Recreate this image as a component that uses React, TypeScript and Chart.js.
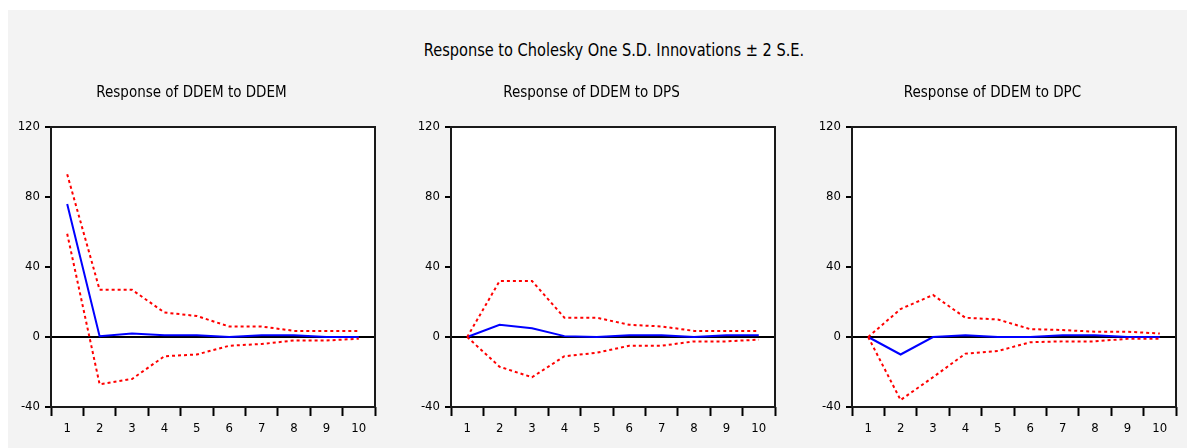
import React, { useEffect, useRef } from "react";
import { Chart, registerables } from "chart.js";

Chart.register(...registerables);

const FONT = '"Liberation Sans Narrow", "DejaVu Sans Condensed", "Arial Narrow", sans-serif';

const mainTitle = "Response to Cholesky One S.D. Innovations ± 2 S.E.";
const periods = ["1", "2", "3", "4", "5", "6", "7", "8", "9", "10"];
const yTicks = [-40, 0, 40, 80, 120];

const titleDDEM = "Response of DDEM to DDEM";
const respDDEM = [76, 0.5, 2, 1, 1, 0, 1, 1, 0, 0];
const upperDDEM = [93, 27, 27, 14, 12, 6, 6, 3.5, 3.5, 3.5];
const lowerDDEM = [59, -27, -24, -11, -10, -5, -4, -2, -2, -1];

const titleDPS = "Response of DDEM to DPS";
const respDPS = [0, 7, 5, 0.5, 0, 1, 1, 0, 1, 1];
const upperDPS = [0, 32, 32, 11, 11, 7, 6, 3.5, 3.5, 3.5];
const lowerDPS = [0, -17, -23, -11, -9, -5, -5, -2.5, -2.5, -1.5];

const titleDPC = "Response of DDEM to DPC";
const respDPC = [0, -10, 0, 1, 0, 0, 1, 1, 0, 0];
const upperDPC = [0, 16, 24, 11, 10, 4.5, 4, 3, 3, 2];
const lowerDPC = [0, -36, -23, -9.5, -8, -3, -2.5, -2.5, -1, -1];

const framePlugin = {
  id: "frame",
  beforeDraw(chart: any) {
    const { ctx, chartArea: a } = chart;
    ctx.save();
    ctx.fillStyle = "#ffffff";
    ctx.fillRect(a.left, a.top, a.right - a.left, a.bottom - a.top);
    ctx.restore();
  },
  afterDraw(chart: any) {
    const { ctx, chartArea: a } = chart;
    ctx.save();
    ctx.strokeStyle = "#1a1a1a";
    ctx.lineWidth = 2;
    ctx.strokeRect(a.left, a.top, a.right - a.left, a.bottom - a.top);
    ctx.restore();
  },
};

function makeConfig(title: string, resp: number[], upper: number[], lower: number[]): any {
  const band = (data: number[]) => ({
    data,
    borderColor: "#ff0000",
    borderDash: [3, 3],
    borderWidth: 2,
    pointRadius: 0,
    fill: false,
    tension: 0,
  });
  return {
    type: "line",
    data: {
      labels: periods,
      datasets: [
        band(upper),
        band(lower),
        { data: resp, borderColor: "#0000ff", borderWidth: 2, pointRadius: 0, fill: false, tension: 0 },
      ],
    },
    options: {
      responsive: false,
      animation: false,
      events: [],
      layout: { padding: { left: 0, right: 4, top: 0, bottom: 0 } },
      plugins: {
        legend: { display: false },
        tooltip: { enabled: false },
        title: {
          display: true,
          text: title,
          color: "#000",
          font: { family: FONT, size: 15, weight: "normal" },
          padding: { top: 9, bottom: 25 },
        },
      },
      scales: {
        x: {
          offset: true,
          grid: { offset: true, drawOnChartArea: false, tickLength: 9, tickColor: "#000", tickWidth: 2, color: "#000" },
          border: { display: false },
          ticks: { color: "#000", font: { family: FONT, size: 13 }, padding: 5, maxRotation: 0, autoSkip: false },
          afterFit: (s: any) => {
            s.height = 41;
          },
        },
        y: {
          min: -40,
          max: 120,
          afterBuildTicks: (s: any) => {
            s.ticks = yTicks.map((v) => ({ value: v }));
          },
          ticks: { color: "#000", font: { family: FONT, size: 13 }, padding: 5 },
          grid: {
            color: (c: any) => (c.tick && c.tick.value === 0 ? "#000" : "rgba(0,0,0,0)"),
            lineWidth: 2,
            tickColor: "#000",
            tickWidth: 2,
            tickLength: 6,
          },
          border: { display: false },
          afterFit: (s: any) => {
            s.width = 43;
          },
        },
      },
    },
    plugins: [framePlugin],
  };
}

function Panel(props: { left: number; title: string; resp: number[]; upper: number[]; lower: number[] }) {
  const ref = useRef<HTMLCanvasElement | null>(null);
  useEffect(() => {
    const chart = new Chart(ref.current as HTMLCanvasElement, makeConfig(props.title, props.resp, props.upper, props.lower));
    return () => chart.destroy();
  }, []);
  return (
    <canvas
      ref={ref}
      width={371}
      height={373}
      style={{ position: "absolute", left: props.left, top: 75, width: 371, height: 373 }}
    />
  );
}

export default function App() {
  return (
    <div style={{ position: "fixed", left: 0, top: 0, width: 1187, height: 448, background: "#ffffff", overflow: "hidden" }}>
      <div style={{ position: "absolute", left: 8, top: 10, right: 0, bottom: 0, background: "#f3f3f3" }} />
      <div
        style={{
          position: "absolute",
          left: 364,
          width: 500,
          top: 39,
          textAlign: "center",
          fontFamily: FONT,
          fontSize: 18,
          lineHeight: "22px",
          color: "#000",
          whiteSpace: "nowrap",
          transform: "scaleX(0.9)",
        }}
      >
        {mainTitle}
      </div>
      <Panel left={8} title={titleDDEM} resp={respDDEM} upper={upperDDEM} lower={lowerDDEM} />
      <Panel left={408} title={titleDPS} resp={respDPS} upper={upperDPS} lower={lowerDPS} />
      <Panel left={809} title={titleDPC} resp={respDPC} upper={upperDPC} lower={lowerDPC} />
    </div>
  );
}
